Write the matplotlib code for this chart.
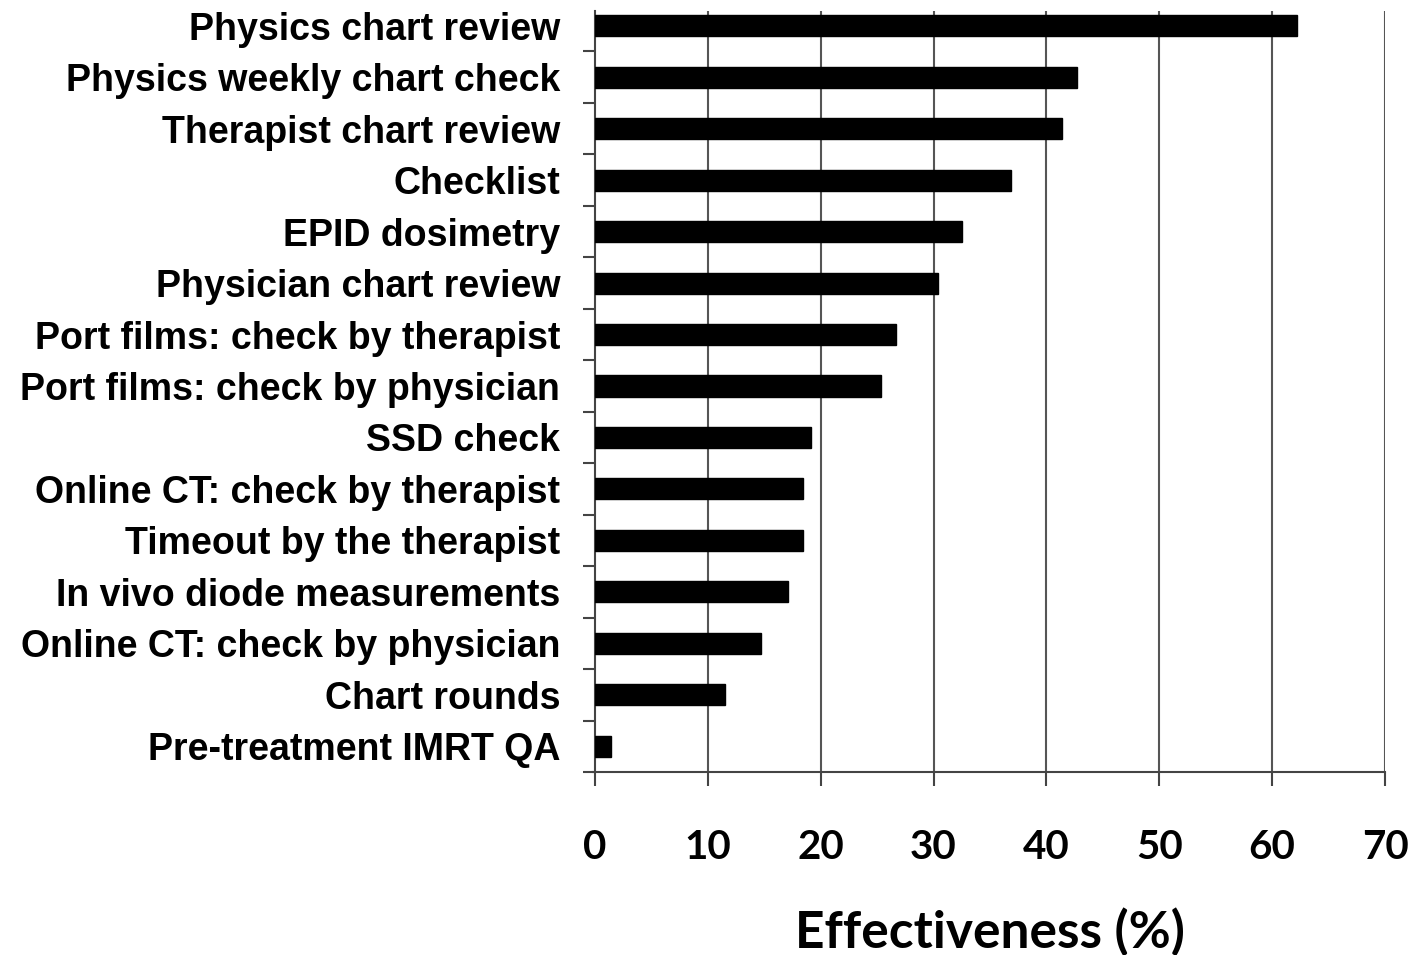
import numpy as np
import matplotlib.pyplot as plt
from matplotlib.ticker import FixedLocator

categories = [
    "Physics chart review",
    "Physics weekly chart check",
    "Therapist chart review",
    "Checklist",
    "EPID dosimetry",
    "Physician chart review",
    "Port films: check by therapist",
    "Port films: check by physician",
    "SSD check",
    "Online CT: check by therapist",
    "Timeout by the therapist",
    "In vivo diode measurements",
    "Online CT: check by physician",
    "Chart rounds",
    "Pre-treatment IMRT QA",
]
effectiveness = [62.2, 42.7, 41.4, 36.9, 32.5, 30.4, 26.7, 25.3,
                 19.1, 18.4, 18.4, 17.1, 14.7, 11.5, 1.4]
x_ticks = [0, 10, 20, 30, 40, 50, 60, 70]

fig = plt.figure(figsize=(14.08, 9.55), dpi=100)
ax = fig.add_axes([595 / 1408, 1 - 772 / 955, 790 / 1408, 772 / 955])

n = len(categories)
y = np.arange(n)
ax.barh(y, effectiveness, height=0.41, color="black", edgecolor="black", zorder=3)

ax.set_xlim(0, 70)
ax.set_ylim(n - 0.5, -0.5)
# the gridlines and left spine stop a little below the top of the first slot
line_top = -0.5 + 11 / 51.5
ax.vlines(x_ticks[1:], n - 0.5, line_top, color="#555555", linewidth=1.5, zorder=1)

ax.set_xticks(x_ticks)
ax.set_xticklabels([str(t) for t in x_ticks], fontfamily="Lato",
                   fontweight="bold", fontsize=29)
ax.set_yticks(y)
ax.set_yticklabels(categories, fontfamily="Liberation Sans",
                   fontweight="bold", fontsize=27)
ax.yaxis.set_minor_locator(FixedLocator(np.arange(0.5, n, 1.0)))
ax.tick_params(axis="y", which="major", length=0, pad=25)
ax.tick_params(axis="y", which="minor", length=9, width=1.5, color="#444444",
               direction="out")
ax.tick_params(axis="x", which="major", length=10, width=1.5, color="#444444",
               direction="out", pad=31)

for s in ["top", "right"]:
    ax.spines[s].set_visible(False)
for s in ["left", "bottom"]:
    ax.spines[s].set_color("#444444")
    ax.spines[s].set_linewidth(1.5)
ax.spines["left"].set_bounds(n - 0.5, line_top)
ax.spines["bottom"].set_bounds(-0.16, 70)
ax.spines["bottom"].set_clip_on(False)

ax.set_xlabel("Effectiveness (%)", fontfamily="Lato", fontweight="bold",
              fontsize=37, labelpad=30)

fig.savefig("out.png", dpi=100, facecolor="white")
